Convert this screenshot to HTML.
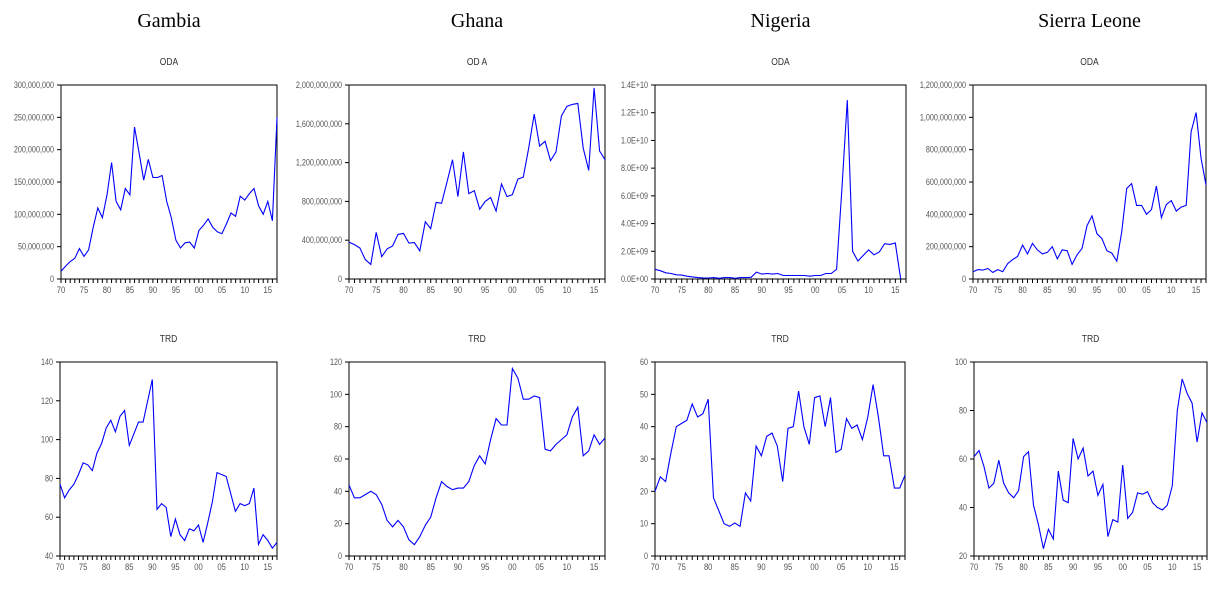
<!DOCTYPE html>
<html><head><meta charset="utf-8"><style>
body{margin:0;background:#fff;width:1226px;height:590px;overflow:hidden}
svg{display:block}
</style></head><body>
<svg id="c" width="1226" height="590" xmlns="http://www.w3.org/2000/svg"></svg>
<script>
const years = Array.from({length:48},(_,i)=>1970+i);
const gambiaOda = [12,20,27,32,47,35,45,80,110,95,130,180,120,107,140,130,235,195,153,185,157,157,160,120,95,60,48,56,57,48,75,83,93,80,73,70,85,102,97,128,122,132,140,113,100,120,90,250];
const ghanaOda = [380,355,320,200,150,480,230,310,340,460,470,370,375,290,590,520,790,780,1000,1230,850,1310,880,910,720,800,840,700,980,850,870,1030,1050,1350,1700,1370,1420,1220,1310,1680,1780,1800,1810,1350,1120,1970,1320,1230];
const nigeriaOda = [0.7,0.6,0.45,0.4,0.3,0.28,0.2,0.15,0.1,0.08,0.07,0.1,0.05,0.1,0.1,0.05,0.1,0.1,0.12,0.5,0.35,0.4,0.35,0.4,0.25,0.25,0.25,0.25,0.25,0.2,0.25,0.25,0.4,0.4,0.7,6.5,12.9,2.0,1.3,1.7,2.1,1.75,1.95,2.55,2.5,2.6,0.0];
const sierraOda = [45,58,55,65,40,58,45,95,120,140,210,155,220,180,155,165,200,125,180,175,90,150,190,330,390,280,250,175,160,110,290,560,590,455,455,400,430,575,380,460,485,420,445,455,910,1030,750,580];
const gambiaTrd = [77,70,74,77,82,88,87,84,93,98,106,110,104,112,115,97,103,109,109,120,131,64,67,65,50,59,51,48,54,53,56,47,57,68,83,82,81,72,63,67,66,67,75,46,51,48,44,47];
const ghanaTrd = [44,36,36,38,40,38,32,22,18,22,18,10,7,12,19,24,36,46,43,41,42,42,46,56,62,57,72,85,81,81,116,110,97,97,99,98,66,65,69,72,75,86,92,62,65,75,69,73];
const nigeriaTrd = [20,24.5,23,32,40,41,42,47,43,44,48.5,18,14,10,9.2,10.2,9.2,19.5,17,34,31,37,38,34,23,39.5,40,51,40,34.5,49,49.5,40,49,32,33,42.5,39.5,40.5,36,43,53,43,31,31,21,21,25];
const sierraTrd = [61,63.5,57,48,50,59.5,50,46,44,47,61,63,41,33,23,31,27,55,43,42,68.5,60,64.5,53,55,45,49.5,28,35,34,57.5,35.5,38,46,45.5,46.5,42,40,39,41,49,80,93,87,83,67,79,75];
const xTickLabels = ["70","75","80","85","90","95","00","05","10","15"];
const gambiaOdaTicks = ["0","50,000,000","100,000,000","150,000,000","200,000,000","250,000,000","300,000,000"];
const ghanaOdaTicks = ["0","400,000,000","800,000,000","1,200,000,000","1,600,000,000","2,000,000,000"];
const nigeriaOdaTicks = ["0.0E+00","2.0E+09","4.0E+09","6.0E+09","8.0E+09","1.0E+10","1.2E+10","1.4E+10"];
const sierraOdaTicks = ["0","200,000,000","400,000,000","600,000,000","800,000,000","1,000,000,000","1,200,000,000"];
const countries = ["Gambia","Ghana","Nigeria","Sierra Leone"];

const NS="http://www.w3.org/2000/svg";
const svg=document.getElementById('c');
function mk(tag,attrs,parent){const e=document.createElementNS(NS,tag);for(const k in attrs)e.setAttribute(k,attrs[k]);(parent||svg).appendChild(e);return e;}
function squeeze(t,f){const l=t.getComputedTextLength();if(l>0){t.setAttribute('textLength',(l*f).toFixed(1));t.setAttribute('lengthAdjust','spacingAndGlyphs');}}

const panels=[
 {id:'gambia-oda',title:'ODA',L:61,R:277,T:85,B:279,min:0,max:300,data:gambiaOda,ticks:gambiaOdaTicks},
 {id:'ghana-oda',title:'OD A',L:349,R:605,T:85,B:279,min:0,max:2000,data:ghanaOda,ticks:ghanaOdaTicks},
 {id:'nigeria-oda',title:'ODA',L:655,R:906,T:85,B:279,min:0,max:14,data:nigeriaOda,ticks:nigeriaOdaTicks},
 {id:'sierra-leone-oda',title:'ODA',L:973,R:1206,T:85,B:279,min:0,max:1200,data:sierraOda,ticks:sierraOdaTicks},
 {id:'gambia-trd',title:'TRD',L:60,R:277,T:362,B:556,min:40,max:140,data:gambiaTrd,ticks:["40","60","80","100","120","140"]},
 {id:'ghana-trd',title:'TRD',L:349,R:605,T:362,B:556,min:0,max:120,data:ghanaTrd,ticks:["0","20","40","60","80","100","120"]},
 {id:'nigeria-trd',title:'TRD',L:655,R:905,T:362,B:556,min:0,max:60,data:nigeriaTrd,ticks:["0","10","20","30","40","50","60"]},
 {id:'sierra-leone-trd',title:'TRD',L:974,R:1207,T:362,B:556,min:20,max:100,data:sierraTrd,ticks:["20","40","60","80","100"]}
];

countries.forEach((c,i)=>{
 const p=panels[i];
 const t=mk('text',{x:(p.L+p.R)/2,y:27,'text-anchor':'middle','font-family':'Liberation Serif, serif','font-size':'20',fill:'#000'});
 t.textContent=c;
 
 
});

panels.forEach(p=>{
 const g=mk('g',{});
 
 
 const xs=yr=>p.L+(yr-1970)/47*(p.R-p.L);
 const ys=v=>p.B-(v-p.min)/(p.max-p.min)*(p.B-p.T);
 const tt=mk('text',{x:(p.L+p.R)/2,y:p.T-20,'text-anchor':'middle','font-family':'Liberation Sans, sans-serif','font-size':'10',fill:'#333'},g);
 tt.textContent=p.title;
 
 
 squeeze(tt,0.85);
 const fr=mk('rect',{x:p.L,y:p.T,width:p.R-p.L,height:p.B-p.T,fill:'none',stroke:'#000','stroke-width':1},g);
 
 
 const n=p.ticks.length-1;
 p.ticks.forEach((lab,k)=>{
  const v=p.min+k*(p.max-p.min)/n;
  const y=ys(v);
  mk('line',{x1:p.L-4,x2:p.L,y1:y,y2:y,stroke:'#000','stroke-width':1},g);
  const tx=mk('text',{x:p.L-7,y:y+3,'text-anchor':'end','font-family':'Liberation Sans, sans-serif','font-size':'9',fill:'#555'},g);
  tx.textContent=lab;
  
  
  squeeze(tx,0.8);
 });
 years.forEach(yr=>{
  const x=xs(yr);
  mk('line',{x1:x,x2:x,y1:p.B,y2:p.B+4,stroke:'#000','stroke-width':1},g);
 });
 xTickLabels.forEach((lab,k)=>{
  const x=xs(1970+5*k);
  const tx=mk('text',{x:x,y:p.B+14,'text-anchor':'middle','font-family':'Liberation Sans, sans-serif','font-size':'9',fill:'#555'},g);
  tx.textContent=lab;
  
  
  squeeze(tx,0.85);
 });
 const pts=p.data.map((v,i)=>xs(1970+i).toFixed(1)+','+ys(v).toFixed(1)).join(' ');
 const pl=mk('polyline',{points:pts,fill:'none',stroke:'#0000ff','stroke-width':1.1},g);
 
 
});
</script>
</body></html>
